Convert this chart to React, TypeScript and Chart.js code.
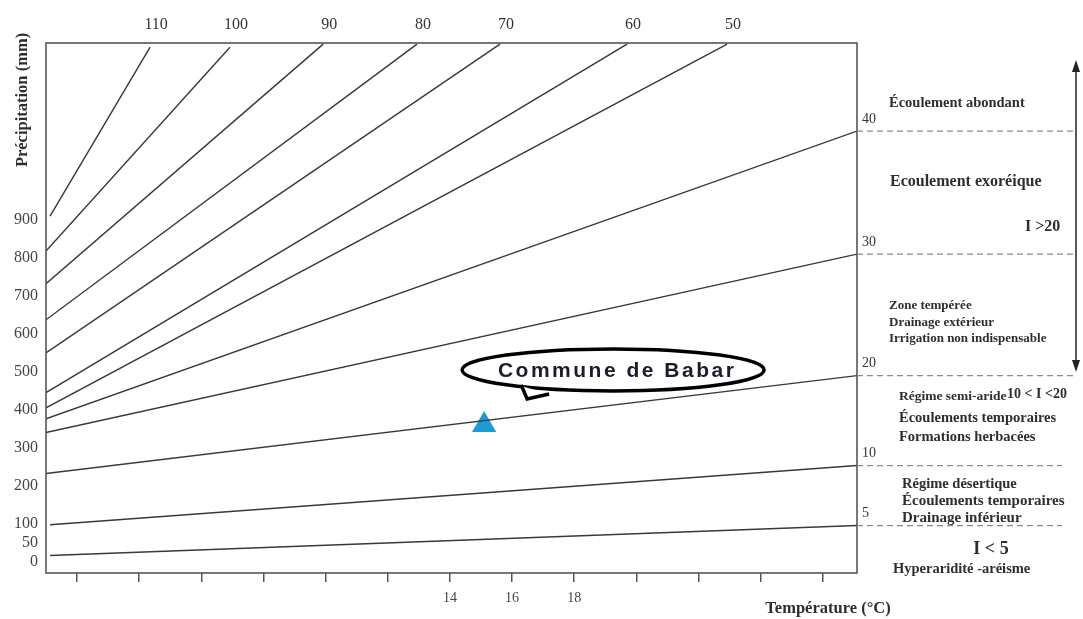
import React, { useEffect, useRef } from 'react';
import { Chart, registerables } from 'chart.js';

Chart.register(...registerables);

// De Martonne aridity index lines (I), read from the abacus
const indexLabels = ['110', '100', '90', '80', '70', '60', '50', '40', '30', '20', '10', '5'];
const lineStartT = [1.13, 1, 1, 1, 1, 1, 1, 1, 1, 1, 1.13, 1.13];
const lineStartP = [910, 818, 732, 637, 550, 445, 405, 376, 340, 232, 97, 16];
const lineEndT = [4.35, 6.92, 9.92, 12.94, 15.61, 19.7, 22.92, 27.1, 27.1, 27.1, 27.1, 27.1];
const lineEndP = [1355, 1355, 1363, 1363, 1363, 1363, 1363, 1134, 810, 490, 253, 95];

// axis ticks
const yTickValues = [0, 50, 100, 200, 300, 400, 500, 600, 700, 800, 900];
const xTickValues = [2, 4, 6, 8, 10, 12, 14, 16, 18, 20, 22, 24, 26];
const xLabelledTicks = [14, 16, 18];

// station
const siteName = 'Commune de Babar';
const siteT = [15.1];
const siteP = [360];

const SERIF = "'Liberation Serif', 'DejaVu Serif', serif";
const SANS = "'Liberation Sans', Arial, sans-serif";

const decorPlugin = {
  id: 'decor',
  afterDraw(chart: any) {
    const ctx = chart.ctx as CanvasRenderingContext2D;
    const area = chart.chartArea;
    const xs = chart.scales.x;
    ctx.save();

    // frame
    ctx.strokeStyle = '#555';
    ctx.lineWidth = 1.6;
    ctx.strokeRect(area.left, area.top, area.right - area.left, area.bottom - area.top);

    const txt = (s: string, x: number, y: number, size: number, bold = true, align: CanvasTextAlign = 'left', color = '#2e2e2e') => {
      ctx.font = `${bold ? 'bold ' : ''}${size}px ${SERIF}`;
      ctx.fillStyle = color;
      ctx.textAlign = align;
      ctx.textBaseline = 'middle';
      ctx.fillText(s, x, y);
    };

    // index labels + dashed continuations
    indexLabels.forEach((lab, i) => {
      const meta = chart.getDatasetMeta(i);
      const end = meta.data[1];
      if (!end) return;
      if (lineEndT[i] >= xs.max - 0.01) {
        ctx.save();
        ctx.strokeStyle = '#8a8a8a';
        ctx.lineWidth = 1.2;
        ctx.setLineDash([6, 4]);
        ctx.beginPath();
        ctx.moveTo(area.right, end.y);
        ctx.lineTo(i >= 10 ? 1062 : 1076, end.y);
        ctx.stroke();
        ctx.restore();
        txt(lab, area.right + 5, end.y - 12, 14, false, 'left', '#333');
      } else {
        txt(lab, end.x + 6, 25, 16, false, 'center', '#333');
      }
    });

    // axis titles
    ctx.save();
    ctx.translate(23, 100);
    ctx.rotate(-Math.PI / 2);
    txt('Précipitation (mm)', 0, 0, 16.5, true, 'center');
    ctx.restore();
    txt('Température (°C)', 828, 609, 16.5, true, 'center');

    // zone notes
    const notes: [string, number, number, number, CanvasTextAlign?][] = [
      ['Écoulement abondant', 889, 103, 14.5],
      ['Ecoulement exoréique', 890, 182, 16],
      ['I >20', 1025, 227, 16],
      ['Zone tempérée', 889, 306, 13],
      ['Drainage extérieur', 889, 323, 13],
      ['Irrigation non indispensable', 889, 339, 13],
      ['Régime semi-aride', 899, 397, 13.5],
      ['10 < I <20', 1007, 394, 14],
      ['Écoulements temporaires', 899, 418, 14.5],
      ['Formations herbacées', 899, 437, 14.5],
      ['Régime désertique', 902, 484, 14.5],
      ['Écoulements temporaires', 902, 501, 15],
      ['Drainage inférieur', 902, 518, 15],
      ['I < 5', 991, 549, 18, 'center'],
      ['Hyperaridité -aréisme', 893, 569, 14.5],
    ];
    notes.forEach(([s, x, y, size, al]) => txt(s, x, y, size, true, al || 'left'));

    // double arrow
    ctx.strokeStyle = '#222';
    ctx.fillStyle = '#222';
    ctx.lineWidth = 1.5;
    ctx.beginPath();
    ctx.moveTo(1076, 66);
    ctx.lineTo(1076, 366);
    ctx.stroke();
    ctx.beginPath();
    ctx.moveTo(1076, 60);
    ctx.lineTo(1072, 72);
    ctx.lineTo(1080, 72);
    ctx.closePath();
    ctx.fill();
    ctx.beginPath();
    ctx.moveTo(1076, 372);
    ctx.lineTo(1072, 360);
    ctx.lineTo(1080, 360);
    ctx.closePath();
    ctx.fill();

    // callout
    const site = chart.getDatasetMeta(indexLabels.length).data[0];
    if (site) {
      const cx = site.x + 129;
      const cy = site.y - 55;
      ctx.fillStyle = '#fff';
      ctx.strokeStyle = '#000';
      ctx.lineWidth = 3.5;
      ctx.beginPath();
      ctx.ellipse(cx, cy, 151, 21, 0, 0, Math.PI * 2);
      ctx.fill();
      ctx.stroke();
      // tail
      ctx.beginPath();
      ctx.moveTo(cx - 92, cy + 16);
      ctx.lineTo(cx - 86, cy + 29);
      ctx.lineTo(cx - 64, cy + 24);
      ctx.closePath();
      ctx.fill();
      ctx.beginPath();
      ctx.moveTo(cx - 92, cy + 15);
      ctx.lineTo(cx - 86, cy + 29);
      ctx.lineTo(cx - 64, cy + 24);
      ctx.stroke();
      ctx.font = `bold 21px ${SANS}`;
      (ctx as any).letterSpacing = '2.5px';
      ctx.fillStyle = '#1c1c2a';
      ctx.textAlign = 'center';
      ctx.textBaseline = 'middle';
      ctx.fillText(siteName, cx + 4, cy + 1);
      (ctx as any).letterSpacing = '0px';
    }
    ctx.restore();
  },
};

export default function App() {
  const ref = useRef<HTMLCanvasElement | null>(null);

  useEffect(() => {
    if (!ref.current) return;
    const lineSets = indexLabels.map((lab, i) => ({
      type: 'line' as const,
      label: 'I = ' + lab,
      data: [
        { x: lineStartT[i], y: lineStartP[i] },
        { x: lineEndT[i], y: lineEndP[i] },
      ],
      borderColor: '#383838',
      borderWidth: 1.4,
      pointRadius: 0,
      showLine: true,
      fill: false,
    }));
    const siteSet = {
      type: 'scatter' as const,
      label: siteName,
      data: siteT.map((t, i) => ({ x: t, y: siteP[i] })),
      pointStyle: 'triangle',
      pointRadius: 14,
      backgroundColor: '#1b9bd8',
      borderColor: '#1b9bd8',
      borderWidth: 0,
    };
    const chart = new Chart(ref.current, {
      type: 'scatter',
      data: { datasets: [...lineSets, siteSet] as any },
      options: {
        animation: false,
        responsive: false,
        events: [],
        layout: { padding: { top: 43, right: 226, left: 0, bottom: 0 } },
        plugins: { legend: { display: false }, tooltip: { enabled: false } },
        scales: {
          x: {
            type: 'linear',
            min: 1,
            max: 27.1,
            afterBuildTicks: (s: any) => {
              s.ticks = xTickValues.map((v) => ({ value: v }));
            },
            afterFit: (s: any) => {
              s.height = 46;
            },
            ticks: {
              autoSkip: false,
              maxRotation: 0,
              padding: 8,
              color: '#444',
              font: { family: SERIF, size: 14 },
              callback: (v: any) => (xLabelledTicks.includes(Number(v)) ? String(v) : ''),
            },
            grid: { drawOnChartArea: false, drawTicks: true, tickLength: 9, color: '#555', lineWidth: 1.5 },
            border: { display: false },
          },
          y: {
            type: 'linear',
            min: -30,
            max: 1366,
            afterBuildTicks: (s: any) => {
              s.ticks = yTickValues.map((v) => ({ value: v }));
            },
            afterFit: (s: any) => {
              s.width = 46;
            },
            ticks: {
              padding: 8,
              color: '#444',
              font: { family: SERIF, size: 16 },
              callback: (v: any) => String(v),
            },
            grid: { display: false, drawTicks: false },
            border: { display: false },
          },
        },
      },
      plugins: [decorPlugin],
    });
    return () => chart.destroy();
  }, []);

  return (
    <div style={{ position: 'fixed', left: 0, top: 0, width: 1083, height: 619, background: '#fff' }}>
      <canvas ref={ref} width={1083} height={619} />
    </div>
  );
}
